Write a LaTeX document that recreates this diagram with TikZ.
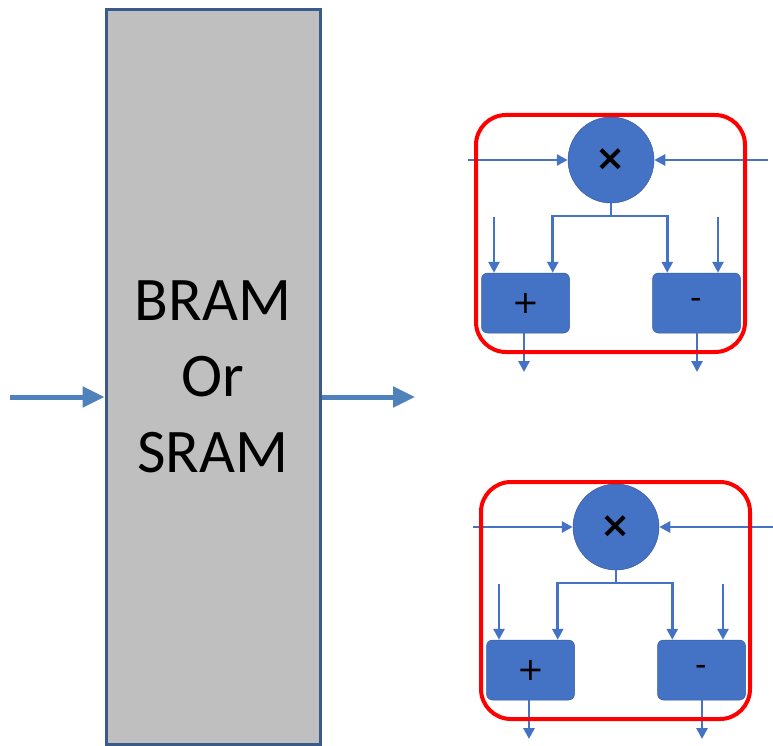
\documentclass[tikz,border=0pt]{standalone}
\usepackage{fontspec}
\setmainfont{Carlito}
\newfontfamily\symfont{DejaVu Sans}
\usetikzlibrary{arrows.meta,calc}
\definecolor{bfill}{RGB}{68,114,196}
\definecolor{bigarr}{RGB}{79,129,189}
\definecolor{bramedge}{RGB}{58,90,140}
\definecolor{bramfill}{RGB}{191,191,191}
\definecolor{redbox}{RGB}{255,0,0}
\tikzset{
  x=1pt,y=1pt,
  arr/.style={draw=bfill,line width=2.8pt,-{Triangle[width=11pt,length=11pt]}},
  ln/.style={draw=bfill,line width=2.8pt},
  bigarrow/.style={draw=bigarr,line width=5pt,-{Triangle[width=20pt,length=22pt]}},
  mulnode/.style={circle,fill=bfill,draw=bfill!80!black,line width=0.5pt,minimum size=86pt,inner sep=0pt,align=center,font=\symfont\fontsize{36}{36}\selectfont\bfseries},
  opbox/.style={rectangle,rounded corners=6pt,fill=bfill,draw=bfill!80!black,line width=0.5pt,minimum width=88pt,minimum height=60pt,inner sep=0pt,align=center,font=\symfont\fontsize{32}{32}\selectfont},
  redframe/.style={draw=redbox,line width=4pt,rounded corners=30pt,minimum width=269pt,minimum height=237pt,inner sep=0pt},
  brambox/.style={draw=bramedge,fill=bramfill,line width=3pt,minimum width=214pt,minimum height=734pt,inner sep=0pt,align=center,font=\fontsize{62}{76}\selectfont},
}
\newcommand\bfly[3]{%
  \begin{scope}[shift={(#2,#3)}]
    \node[mulnode] (#1m) at (0,0) {×};
    \node[opbox] (#1p) at (-85.5,-143) {+};
    \node[opbox] (#1s) at (85.5,-143) {-};
    \coordinate (#1inl) at (-143,0);
    \coordinate (#1inr) at (157,0);
    \coordinate (#1j) at (0,-56);
    \coordinate (#1el) at (-117,-57);
    \coordinate (#1er) at (107,-57);
    \coordinate (#1ol) at (-87,-212);
    \coordinate (#1or) at (86,-212);
    \draw[arr] (#1inl) -- (#1m.west);
    \draw[arr] (#1inr) -- (#1m.east);
    \draw[ln] (#1m.south) -- (#1j);
    \draw[arr] (#1j) -| ([xshift=-17pt]#1p.north east);
    \draw[arr] (#1j) -| ([xshift=15pt]#1s.north west);
    \draw[arr] (#1el) -- (#1el |- #1p.north);
    \draw[arr] (#1er) -- (#1er |- #1s.north);
    \draw[arr] (#1p.south -| #1ol) -- (#1ol);
    \draw[arr] (#1s.south -| #1or) -- (#1or);
    \node[redframe] (#1r) at (-0.5,-73.5) {};
  \end{scope}}
\begin{document}
\begin{tikzpicture}
\useasboundingbox (0,0) rectangle (773,-746);
\node[brambox] (bram) at (213,-377) {BRAM\\Or\\SRAM};
\coordinate (inbig) at (10,-397);
\coordinate (outbig) at (415,-397);
\draw[bigarrow] (inbig) -- (inbig -| bram.west);
\draw[bigarrow] (outbig -| bram.east) -- (outbig);
\bfly{a}{611}{-160}
\bfly{b}{616}{-527}
\end{tikzpicture}
\end{document}
